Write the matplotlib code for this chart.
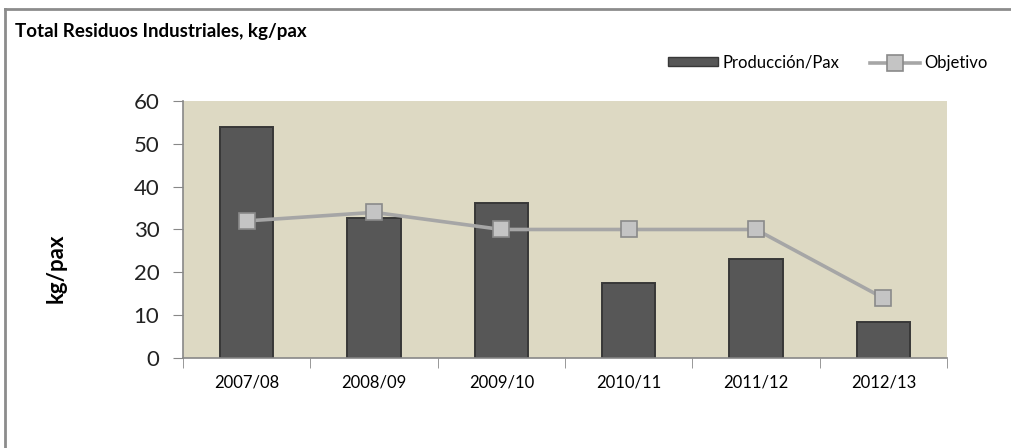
import numpy as np
import matplotlib.pyplot as plt
from matplotlib.lines import Line2D
from matplotlib.patches import Patch

years = ['2007/08', '2008/09', '2009/10', '2010/11', '2011/12', '2012/13']
produccion = [54.0, 32.7, 36.2, 17.5, 23.1, 8.5]
objetivo = [32.0, 34.0, 30.0, 30.0, 30.0, 14.0]

plt.rcParams['font.family'] = ['Lato', 'DejaVu Sans']

fig = plt.figure(figsize=(10.11, 4.48), dpi=100)
ax = fig.add_axes([0.181, 0.2009, 0.7557, 0.5737])
ax.set_facecolor('#DDD9C3')

x = np.arange(len(years))
ax.bar(x, produccion, width=0.42, color='#575757', edgecolor='#383838', linewidth=1.4, zorder=2)
line, = ax.plot(x, objetivo, color='#A6A6A6', lw=2.6, marker='s', markersize=11,
                markerfacecolor='#C4C4C4', markeredgecolor='#8A8A8A', markeredgewidth=1.2, zorder=3)

ax.set_xlim(-0.5, len(years) - 0.5)
ax.set_ylim(0, 60)
ax.set_yticks(np.arange(0, 61, 10))
ax.set_xticks(x)
ax.set_xticklabels(years)
ax.set_xticks(np.arange(-0.5, len(years)), minor=True)
ax.tick_params(axis='x', which='major', length=0, pad=12, labelsize=12)
ax.tick_params(axis='x', which='minor', length=7, color='#888888', direction='out')
ax.tick_params(axis='y', length=7, color='#888888', direction='out', labelsize=16, pad=10,
               labelcolor='#222222')
for s in ['top', 'right']:
    ax.spines[s].set_visible(False)
for s in ['left', 'bottom']:
    ax.spines[s].set_color('#888888')
    ax.spines[s].set_linewidth(1.2)

ax.set_ylabel('kg/pax', fontsize=16, fontweight='bold', va='center')
ax.yaxis.set_label_coords(-0.166, 0.35)

fig.text(0.015, 0.917, 'Total Residuos Industriales, kg/pax', fontsize=13.5, fontweight='bold')

handles = [Patch(facecolor='#575757', edgecolor='#383838'), line]
fig.legend(handles, ['Producción/Pax', 'Objetivo'], loc='center right', bbox_to_anchor=(0.992, 0.86),
           ncol=2, frameon=False, fontsize=12, handlelength=3.0, handleheight=0.45,
           columnspacing=1.8, handletextpad=0.3)

# chart frame (top and left edges visible)
fig.add_artist(Line2D([5 / 1011, 1.0], [1 - 9 / 448, 1 - 9 / 448], color='#8C8C8C', lw=2))
fig.add_artist(Line2D([5 / 1011, 5 / 1011], [0, 1 - 9 / 448], color='#8C8C8C', lw=2))

fig.savefig('out.png', dpi=100)
